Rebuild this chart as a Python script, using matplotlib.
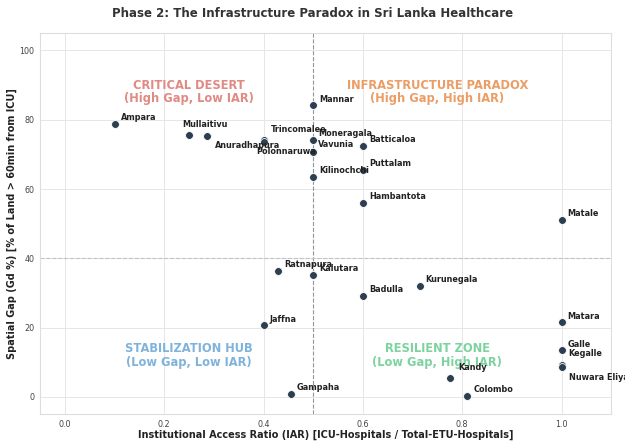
"""Phase 2 quadrant chart: spatial gap vs institutional access ratio."""

import matplotlib

matplotlib.use("Agg")
import matplotlib.pyplot as plt

# District values
districts = [
    "Ampara", "Mullaitivu", "Anuradhapura", "Trincomalee", "Polonnaruwa",
    "Mannar", "Moneragala", "Vavunia", "Batticaloa", "Puttalam",
    "Kilinochchi", "Hambantota", "Matale", "Ratnapura", "Kalutara",
    "Kurunegala", "Badulla", "Jaffna", "Matara", "Galle",
    "Kegalle", "Nuwara Eliya", "Kandy", "Colombo", "Gampaha",
]
iar = [
    0.10, 0.25, 0.286, 0.40, 0.40,
    0.50, 0.50, 0.50, 0.60, 0.60,
    0.50, 0.60, 1.00, 0.429, 0.50,
    0.714, 0.60, 0.40, 1.00, 1.00,
    1.00, 1.00, 0.775, 0.81, 0.455,
]
gap = [
    78.8, 75.6, 75.4, 74.2, 73.6,
    84.2, 74.2, 70.8, 72.5, 65.6,
    63.6, 56.0, 51.1, 36.4, 35.2,
    32.1, 29.2, 20.6, 21.5, 13.5,
    9.2, 8.6, 5.4, 0.3, 0.9,
]

# label offsets in pixels (dx, dy up); default is (6, 6)
LABEL_OFFSET = {
    "Mullaitivu": (-7, 10),
    "Anuradhapura": (8, -10),
    "Trincomalee": (7, 10),
    "Polonnaruwa": (-7, -10),
    "Moneragala": (5, 6),
    "Vavunia": (5, 7),
    "Kegalle": (7, 11),
    "Nuwara Eliya": (7, -10),
    "Kandy": (8, 11),
}

POINT = "#2c3e50"
TXT = "#222222"

fig = plt.figure(figsize=(6.25, 4.42), dpi=100, facecolor="white")
ax = fig.add_axes([0.064, 0.063, 0.914, 0.862])
ax.set_facecolor("white")

ax.grid(True, color="#e6e6e6", lw=0.7)
ax.set_axisbelow(True)
for s in ax.spines.values():
    s.set_color("#dddddd")
    s.set_linewidth(0.8)

ax.axvline(0.5, color="#7f8c8d", ls="--", lw=0.8, alpha=0.9, zorder=1)
ax.axhline(40, color="#bdc3c7", ls="--", lw=0.8, zorder=1)

ax.scatter(iar, gap, s=32, color=POINT, edgecolor="white", linewidth=0.6, zorder=3)

for name, x, y in zip(districts, iar, gap):
    dx, dy = LABEL_OFFSET.get(name, (6, 6))
    ax.annotate(name, (x, y), xytext=(dx, dy), textcoords="offset pixels",
                ha="left", va="center", fontsize=5.9, fontweight="bold", color=TXT,
                zorder=4)

# quadrant captions
quad_kw = dict(ha="center", va="center", fontsize=8.3, fontweight="bold", linespacing=1.05)
ax.text(0.25, 88, "CRITICAL DESERT\n(High Gap, Low IAR)", color="#e08a84", **quad_kw)
ax.text(0.75, 88, "INFRASTRUCTURE PARADOX\n(High Gap, High IAR)", color="#eb9d66", **quad_kw)
ax.text(0.25, 12, "STABILIZATION HUB\n(Low Gap, Low IAR)", color="#7fb3dc", **quad_kw)
ax.text(0.75, 12, "RESILIENT ZONE\n(Low Gap, High IAR)", color="#7dd3a0", **quad_kw)

ax.set_xlim(-0.05, 1.1)
ax.set_ylim(-5, 105)
ax.set_xticks([0.0, 0.2, 0.4, 0.6, 0.8, 1.0])
ax.set_yticks([0, 20, 40, 60, 80, 100])
ax.tick_params(axis="both", length=0, labelsize=5.8, labelcolor="#444444", pad=4)

ax.set_xlabel("Institutional Access Ratio (IAR) [ICU-Hospitals / Total-ETU-Hospitals]",
              fontsize=7.0, fontweight="bold", color=TXT, labelpad=1)
ax.set_ylabel("Spatial Gap (Gd %) [% of Land > 60min from ICU]",
              fontsize=7.0, fontweight="bold", color=TXT, labelpad=2)

fig.suptitle("Phase 2: The Infrastructure Paradox in Sri Lanka Healthcare",
             fontsize=8.5, fontweight="bold", color="#333333", x=0.5, y=0.985, va="top")

fig.savefig("out.png", dpi=100, facecolor="white")
